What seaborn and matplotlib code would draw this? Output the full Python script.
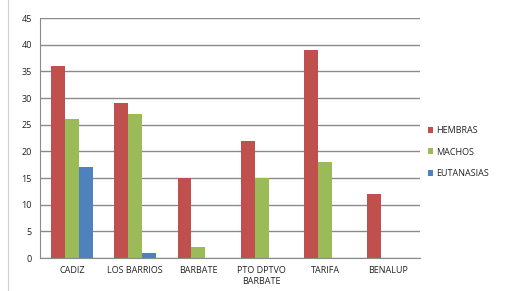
import pandas as pd
import matplotlib
matplotlib.use("Agg")
import matplotlib.pyplot as plt
import seaborn as sns

# data
pueblos = ["CADIZ", "LOS BARRIOS", "BARBATE", "PTO DPTVO\nBARBATE", "TARIFA", "BENALUP"]
hembras = [36, 29, 15, 22, 39, 12]
machos = [26, 27, 2, 15, 18, 0]
eutanasias = [17, 1, 0, 0, 0, 0]
series = ["HEMBRAS", "MACHOS", "EUTANASIAS"]
colores = ["#C0504D", "#9BBB59", "#4F81BD"]

df = pd.DataFrame({"pueblo": pueblos * 3,
                   "serie": [s for s in series for _ in pueblos],
                   "valor": hembras + machos + eutanasias})

sns.set_style("white")
plt.rcParams['font.family'] = ['Open Sans', 'DejaVu Sans']

fig = plt.figure(figsize=(5.09, 2.91), dpi=100)
ax = fig.add_axes([0.079, 0.113, 0.746, 0.825])

sns.barplot(data=df, x="pueblo", y="valor", hue="serie", palette=colores,
            width=0.66, ax=ax, saturation=1, linewidth=0)

ax.set_ylim(0, 45)
ax.set_yticks(range(0, 46, 5))
ax.yaxis.grid(True, color="#8a8a8a", linewidth=1.0)
ax.set_axisbelow(True)
ax.set_xlabel("")
ax.set_ylabel("")
for s in ["top", "right"]:
    ax.spines[s].set_visible(False)
ax.spines["left"].set_color("#8a8a8a")
ax.spines["bottom"].set_color("#8a8a8a")
ax.tick_params(axis="both", labelsize=6.5, length=0, pad=6, colors="#222222")

ax.legend(loc="center left", bbox_to_anchor=(1.0, 0.442), frameon=False,
          fontsize=6.5, handlelength=0.6, handleheight=0.6, handletextpad=0.3,
          labelspacing=1.4, labelcolor="#222222")

# spreadsheet gridline at the left edge
fig.add_artist(plt.Line2D([0.016, 0.016], [0, 1], color="#d0d0d0", linewidth=0.8))

fig.savefig("out.png", dpi=100)
